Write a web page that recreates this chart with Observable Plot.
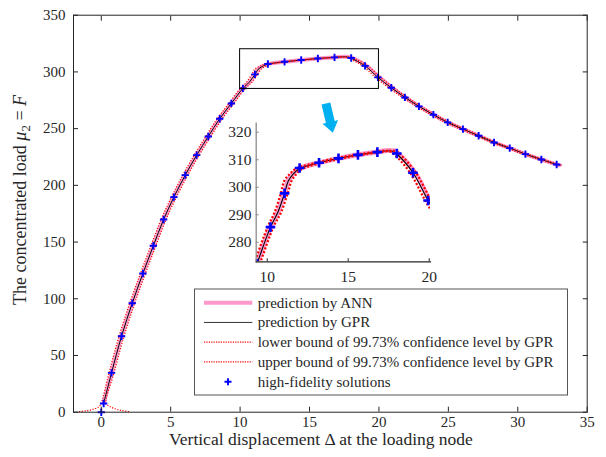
<!DOCTYPE html>
<html><head><meta charset="utf-8">
<script src="https://cdn.jsdelivr.net/npm/d3@7"></script>
<script src="https://cdn.jsdelivr.net/npm/@observablehq/plot@0.6"></script>
<style>
body{margin:0;background:#fff;}
#wrap{position:relative;width:606px;height:457px;overflow:hidden;}
#inset{position:absolute;left:215px;top:115px;}
svg text{font-family:"Liberation Serif",serif;}
</style></head><body>
<div id="wrap"><div id="main"></div><div id="inset"></div></div>
<script>
// ---- data ----
const hfX = [0, 0.17, 0.74, 1.46, 2.23, 3.0, 3.75, 4.49, 5.23, 6.05, 6.87, 7.71, 8.53, 9.37, 10.2, 11.07, 12.0, 13.2, 14.4, 15.6, 16.8, 18.0, 19.0, 19.93, 20.89, 21.87, 22.88, 23.92, 24.95, 26.05, 27.18, 28.29, 29.42, 30.55, 31.7, 32.8];
const hfY = [0, 7.7, 34.7, 67, 96.1, 122.3, 146.7, 169.9, 189.6, 209, 226.6, 243.1, 258.7, 272.2, 285.5, 297.8, 307, 308.9, 310.5, 311.8, 312.8, 312.3, 305.3, 295.2, 286, 277.5, 269.6, 262.3, 255.5, 249.6, 243.7, 237.8, 232.8, 227.5, 222.8, 218.4];

const gprX = [0.17, 0.74, 1.46, 2.23, 3.0, 3.75, 4.49, 5.23, 6.05, 6.87, 7.71, 8.53, 9.37, 10.2, 10.65, 11.07, 11.3, 11.6, 12.0, 13.2, 14.4, 15.6, 16.8, 17.4, 17.75, 18.0, 19.0, 19.93, 20.89, 21.87, 22.88, 23.92, 24.95, 26.05, 27.18, 28.29, 29.42, 30.55, 31.7, 32.8, 33.0];
const gprY = [7.7, 34.7, 67, 96.1, 122.3, 146.7, 169.9, 189.6, 209, 226.6, 243.1, 258.7, 272.2, 285.5, 290.8, 297.8, 302.3, 304.8, 306.8, 308.9, 310.5, 311.8, 312.8, 313.3, 313.1, 312.1, 305.3, 295.2, 286, 277.5, 269.6, 262.3, 255.5, 249.6, 243.7, 237.8, 232.8, 227.5, 222.8, 218.4, 217.7];

const annX = [0.17, 0.74, 1.46, 2.23, 3.0, 3.75, 4.49, 5.23, 6.05, 6.87, 7.71, 8.53, 9.37, 10.2, 10.65, 11.07, 11.3, 11.6, 12.0, 13.2, 14.4, 15.6, 16.8, 17.45, 17.85, 18.12, 19.12, 20.03, 20.97, 21.9, 22.9, 23.93, 24.96, 26.05, 27.18, 28.29, 29.42, 30.55, 31.7, 32.8, 33.0];
const annY = [7.7, 34.7, 67, 96.1, 122.3, 146.7, 169.9, 189.6, 209, 226.6, 243.1, 258.7, 272.2, 285.5, 290.8, 297.8, 302.5, 305.0, 306.9, 308.9, 310.5, 311.8, 312.8, 313.4, 313.2, 312.1, 305.3, 295.2, 286, 277.5, 269.6, 262.3, 255.5, 249.6, 243.7, 237.8, 232.8, 227.5, 222.8, 218.4, 217.7];

const lowerX = [-1.6, -1.0, -0.5, -0.15, -0.01, 0.56, 1.28, 2.05, 2.82, 3.57, 4.31, 5.05, 5.87, 6.69, 7.53, 8.35, 9.19, 10.02, 10.45, 10.84, 11.05, 11.38, 11.8, 13.0, 14.2, 15.4, 16.6, 17.2, 17.55, 17.82, 18.82, 19.75, 20.71, 21.69, 22.7, 23.74, 24.77, 25.87, 27.0, 28.11, 29.24, 30.37, 31.52, 32.62, 32.82];
const lowerY = [0.5, 1.4, 2.9, 5.0, 7.7, 34.7, 67, 96.1, 122.3, 146.7, 169.9, 189.6, 209, 226.6, 243.1, 258.7, 272.2, 285.5, 290.8, 297.8, 302.3, 304.8, 306.8, 308.9, 310.5, 311.8, 312.8, 313.3, 313.1, 312.1, 305.3, 295.2, 286, 277.5, 269.6, 262.3, 255.5, 249.6, 243.7, 237.8, 232.8, 227.5, 222.8, 218.4, 217.7];

const upperX = [2.0, 1.45, 1.0, 0.6, 0.35, 0.92, 1.64, 2.41, 3.18, 3.93, 4.67, 5.41, 6.23, 7.05, 7.89, 8.71, 9.55, 10.38, 10.85, 11.27, 11.5, 11.8, 12.2, 13.4, 14.6, 15.8, 17.0, 17.6, 17.95, 18.18, 19.18, 20.11, 21.07, 22.05, 23.06, 24.1, 25.13, 26.23, 27.36, 28.47, 29.6, 30.73, 31.88, 32.98, 33.18];
const upperY = [0.5, 1.5, 3.0, 5.2, 7.7, 34.7, 67, 96.1, 122.3, 146.7, 169.9, 189.6, 209, 226.6, 243.1, 258.7, 272.2, 285.5, 290.8, 297.8, 302.3, 304.8, 306.8, 308.9, 310.5, 311.8, 312.8, 313.3, 313.1, 312.1, 305.3, 295.2, 286, 277.5, 269.6, 262.3, 255.5, 249.6, 243.7, 237.8, 232.8, 227.5, 222.8, 218.4, 217.7];

const xTicks = [0, 5, 10, 15, 20, 25, 30, 35];
const yTicks = [0, 50, 100, 150, 200, 250, 300, 350];
const insetXTicks = [10, 15, 20];
const insetYTicks = [280, 290, 300, 310, 320];
const zoomBox = [{x1: 10, x2: 20, y1: 285, y2: 320}];
const arrowStart = [{x: 16.18, y: 272.2}];
const legendLabels = ["prediction by ANN", "prediction by GPR",
  "lower bound of 99.73% confidence level by GPR",
  "upper bound of 99.73% confidence level by GPR",
  "high-fidelity solutions"];

// ---- helpers ----
const rows = (xs, ys) => xs.map((x, i) => ({x, y: ys[i]}));
const hf = rows(hfX, hfY), gpr = rows(gprX, gprY), ann = rows(annX, annY);
const lower = rows(lowerX, lowerY), upper = rows(upperX, upperY);

const ink = "#262626", pink = "#ff99cc", red = "#ff0000", blue = "#0000ff", cyan = "#00b0f0";
const font = "Liberation Serif";

const blockArrow = {draw(ctx, l) {
  const hw = 4.5, hh = 8, hl = 11;
  ctx.moveTo(-hw, 0); ctx.lineTo(-hw, -(l - hl)); ctx.lineTo(-hh, -(l - hl));
  ctx.lineTo(0, -l); ctx.lineTo(hh, -(l - hl)); ctx.lineTo(hw, -(l - hl));
  ctx.lineTo(hw, 0); ctx.closePath();
}};

const dotted = (data, w, dash, clip) => Plot.line(data, {x: "x", y: "y", stroke: red, strokeWidth: w,
  strokeDasharray: dash, strokeLinecap: "butt", strokeLinejoin: "miter", curve: "catmull-rom", clip});

// ---- main chart ----
const main = Plot.plot({
  width: 606, height: 457,
  marginLeft: 73, marginRight: 19.3, marginTop: 14.7, marginBottom: 45.3,
  style: {fontFamily: font, fontSize: "15px", color: ink, background: "transparent"},
  x: {domain: [-2, 35]},
  y: {domain: [0, 350]},
  marks: [
    Plot.line(ann, {x: "x", y: "y", stroke: pink, strokeWidth: 4, curve: "catmull-rom"}),
    Plot.line(gpr, {x: "x", y: "y", stroke: "#000", strokeWidth: 1, curve: "catmull-rom"}),
    dotted(lower, 1.2, "1.2 1.5", false),
    dotted(upper, 1.2, "1.2 1.5", false),
    Plot.dot(hf, {x: "x", y: "y", symbol: "plus", stroke: blue, strokeWidth: 1.9, r: 2.5}),
    Plot.rect(zoomBox, {x1: "x1", x2: "x2", y1: "y1", y2: "y2", fill: "none", stroke: "#000", strokeWidth: 1}),
    Plot.vector(arrowStart, {x: "x", y: "y", length: 30, rotate: 166.6, anchor: "start", shape: blockArrow, fill: cyan, stroke: "none"}),
    Plot.axisX({ticks: xTicks, anchor: "bottom", tickSize: -5, tickPadding: 9.5, label: null, stroke: ink}),
    Plot.axisX({ticks: xTicks, anchor: "top", tickSize: -5, tickFormat: () => "", label: null, stroke: ink}),
    Plot.axisY({ticks: yTicks, anchor: "left", tickSize: -5, tickPadding: 13, label: null, stroke: ink}),
    Plot.axisY({ticks: yTicks, anchor: "right", tickSize: -5, tickFormat: () => "", label: null, stroke: ink}),
    Plot.frame({stroke: ink, strokeWidth: 1})
  ]
});
document.getElementById("main").append(main);

const svg = d3.select(main);
// axis labels
svg.append("text").attr("x", 321).attr("y", 445).attr("text-anchor", "middle")
  .attr("font-size", 17.5).attr("fill", ink).text("Vertical displacement Δ at the loading node");
const yl = svg.append("text").attr("transform", "translate(26,200) rotate(-90)")
  .attr("text-anchor", "middle").attr("font-size", 18).attr("fill", ink);
yl.append("tspan").text("The concentrated load ");
yl.append("tspan").attr("font-style", "italic").text("μ");
yl.append("tspan").attr("font-size", 13).attr("dy", 4).text("2");
yl.append("tspan").attr("dy", -4).text(" = ");
yl.append("tspan").attr("font-style", "italic").text("F");

// legend
const lg = svg.append("g").attr("text-anchor", "start");
lg.append("rect").attr("x", 194.5).attr("y", 289).attr("width", 373).attr("height", 106)
  .attr("fill", "#fff").attr("stroke", "#555").attr("stroke-width", 1);
const rowY = i => 302.7 + i * 19.75;
const styles = [
  {stroke: pink, w: 4, dash: null},
  {stroke: "#333", w: 1, dash: null},
  {stroke: red, w: 1.2, dash: "1.2 1.2"},
  {stroke: red, w: 1.2, dash: "1.2 1.2"}
];
styles.forEach((s, i) => {
  lg.append("line").attr("x1", 204).attr("x2", 252.3).attr("y1", rowY(i)).attr("y2", rowY(i))
    .attr("stroke", s.stroke).attr("stroke-width", s.w).attr("stroke-dasharray", s.dash);
});
lg.append("path").attr("d", `M${228 - 3.5},${rowY(4)}h7M228,${rowY(4) - 3.5}v7`)
  .attr("stroke", blue).attr("stroke-width", 1.9);
legendLabels.forEach((t, i) => {
  lg.append("text").attr("x", 257.7).attr("y", rowY(i)).attr("dy", "0.32em")
    .attr("text-anchor", "start").attr("font-size", 15).attr("fill", ink).text(t);
});

// ---- inset ----
const inset = Plot.plot({
  width: 225, height: 170,
  marginLeft: 40.7, marginRight: 10, marginTop: 7.7, marginBottom: 23.7,
  style: {fontFamily: font, fontSize: "15.5px", color: ink, background: "transparent", overflow: "visible"},
  x: {domain: [9.32, 20.08]},
  y: {domain: [272.9, 323.3]},
  marks: [
    Plot.line(ann, {x: "x", y: "y", stroke: pink, strokeWidth: 5, curve: "catmull-rom", clip: true}),
    Plot.line(gpr, {x: "x", y: "y", stroke: "#000", strokeWidth: 1.1, curve: "catmull-rom", clip: true}),
    dotted(lower, 2.2, "2 1.8", true),
    dotted(upper, 2.2, "2 1.8", true),
    Plot.dot(hf, {x: "x", y: "y", symbol: "plus", stroke: blue, strokeWidth: 2.6, r: 3.2, clip: true}),
    Plot.frame({anchor: "left", stroke: "#8c8c8c", strokeWidth: 1.3}),
    Plot.frame({anchor: "bottom", stroke: ink, strokeWidth: 1.2}),
    Plot.axisX({ticks: insetXTicks, anchor: "bottom", tickSize: -3, tickPadding: 12.4, label: null, stroke: ink}),
    Plot.axisY({ticks: insetYTicks, anchor: "left", tickSize: -3, tickPadding: 7.7, label: null, stroke: "#8c8c8c"})
  ]
});
document.getElementById("inset").append(inset);
</script>
</body></html>
